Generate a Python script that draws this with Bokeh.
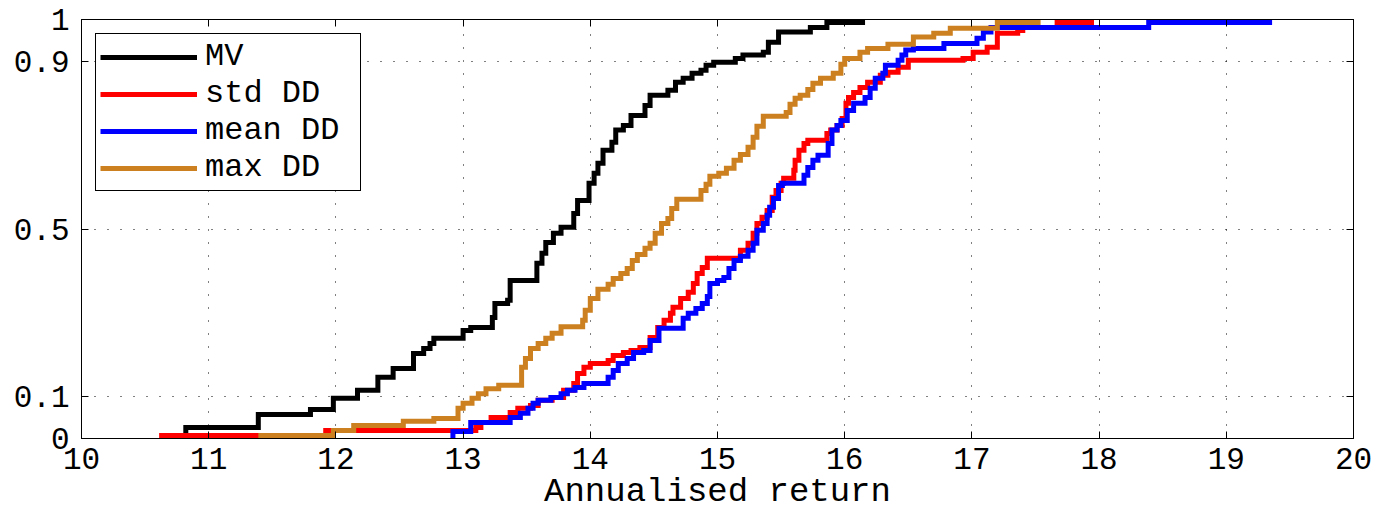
from bokeh.plotting import figure
from bokeh.models import LinearAxis, FixedTicker, Range1d, Legend, LegendItem
from bokeh.embed import file_html
from bokeh.resources import INLINE

# Empirical CDFs of annualised return: step positions (x) and cumulative levels (y)
mv_x = [10.82, 11.39, 11.80, 11.98, 12.17, 12.33, 12.45, 12.61, 12.69, 12.74,
        12.77, 13.00, 13.06, 13.23, 13.25, 13.35, 13.37, 13.58, 13.62, 13.65,
        13.71, 13.77, 13.87, 13.90, 13.99, 14.03, 14.06, 14.10, 14.17, 14.20,
        14.26, 14.32, 14.43, 14.47, 14.61, 14.67, 14.73, 14.80, 14.87, 14.91,
        14.97, 15.14, 15.20, 15.36, 15.40, 15.48, 15.73, 15.86]
mv_y = [0.026, 0.057, 0.069, 0.096, 0.115, 0.146, 0.167, 0.203, 0.215, 0.227,
        0.239, 0.258, 0.265, 0.289, 0.322, 0.330, 0.377, 0.418, 0.442, 0.468,
        0.490, 0.504, 0.537, 0.568, 0.609, 0.633, 0.657, 0.688, 0.707, 0.736,
        0.747, 0.771, 0.795, 0.819, 0.831, 0.850, 0.860, 0.872, 0.879, 0.891,
        0.898, 0.907, 0.915, 0.922, 0.946, 0.970, 0.981, 0.993]
mv_end = 16.16

std_x = [10.63, 11.92, 13.10, 13.14, 13.22, 13.37, 13.43, 13.53, 13.59, 13.70,
         13.79, 13.87, 13.90, 13.95, 14.00, 14.14, 14.18, 14.26, 14.32, 14.39,
         14.47, 14.53, 14.58, 14.63, 14.65, 14.71, 14.77, 14.81, 14.84, 14.88,
         14.92, 15.18, 15.24, 15.28, 15.31, 15.35, 15.39, 15.43, 15.46, 15.50,
         15.52, 15.60, 15.61, 15.64, 15.68, 15.71, 15.86, 15.89, 15.94, 15.98,
         16.01, 16.03, 16.07, 16.12, 16.18, 16.28, 16.34, 16.42, 16.50, 16.93,
         17.01, 17.12, 17.20, 17.36, 17.40, 17.67]
std_y = [0.007, 0.019, 0.026, 0.038, 0.050, 0.062, 0.072, 0.079, 0.091, 0.098,
         0.115, 0.131, 0.155, 0.170, 0.179, 0.186, 0.198, 0.205, 0.210, 0.217,
         0.241, 0.265, 0.282, 0.299, 0.313, 0.334, 0.349, 0.370, 0.394, 0.408,
         0.430, 0.449, 0.466, 0.490, 0.513, 0.528, 0.544, 0.576, 0.592, 0.609,
         0.621, 0.640, 0.664, 0.688, 0.704, 0.712, 0.728, 0.736, 0.747, 0.764,
         0.800, 0.814, 0.826, 0.838, 0.850, 0.867, 0.874, 0.886, 0.903, 0.907,
         0.922, 0.934, 0.967, 0.974, 0.981, 0.993]
std_end = 17.96

mean_x = [12.92, 13.06, 13.37, 13.45, 13.51, 13.55, 13.59, 13.69, 13.77, 13.82,
          13.88, 13.95, 14.14, 14.18, 14.22, 14.29, 14.34, 14.42, 14.47, 14.54,
          14.73, 14.77, 14.83, 14.88, 14.92, 14.94, 15.00, 15.05, 15.09, 15.13,
          15.18, 15.24, 15.28, 15.31, 15.36, 15.39, 15.41, 15.44, 15.48, 15.51,
          15.68, 15.71, 15.75, 15.79, 15.87, 15.90, 15.94, 15.97, 16.02, 16.07,
          16.16, 16.20, 16.24, 16.30, 16.32, 16.42, 16.45, 16.48, 16.54, 16.78,
          17.04, 17.09, 17.15, 18.39]
mean_y = [0.017, 0.038, 0.050, 0.060, 0.072, 0.084, 0.091, 0.098, 0.107, 0.115,
          0.122, 0.131, 0.146, 0.162, 0.179, 0.191, 0.205, 0.210, 0.234, 0.263,
          0.287, 0.299, 0.310, 0.322, 0.339, 0.370, 0.377, 0.384, 0.406, 0.425,
          0.435, 0.449, 0.466, 0.497, 0.513, 0.533, 0.552, 0.573, 0.604, 0.609,
          0.628, 0.647, 0.664, 0.676, 0.704, 0.736, 0.747, 0.759, 0.783, 0.800,
          0.814, 0.836, 0.860, 0.872, 0.891, 0.903, 0.915, 0.927, 0.931, 0.943,
          0.955, 0.970, 0.981, 0.993]
mean_end = 19.36

max_x = [11.41, 11.98, 12.14, 12.53, 12.77, 12.96, 13.00, 13.07, 13.12, 13.18,
         13.28, 13.46, 13.49, 13.53, 13.59, 13.65, 13.70, 13.77, 13.94, 13.96,
         14.00, 14.06, 14.14, 14.18, 14.24, 14.29, 14.33, 14.37, 14.43, 14.47,
         14.51, 14.56, 14.61, 14.64, 14.68, 14.87, 14.91, 14.94, 15.01, 15.07,
         15.13, 15.18, 15.24, 15.28, 15.31, 15.36, 15.54, 15.57, 15.61, 15.65,
         15.71, 15.75, 15.81, 15.91, 15.97, 16.00, 16.12, 16.18, 16.34, 16.54,
         16.70, 16.83, 17.20]
max_y = [0.007, 0.019, 0.031, 0.041, 0.048, 0.072, 0.084, 0.096, 0.107, 0.119,
         0.127, 0.170, 0.191, 0.215, 0.227, 0.239, 0.251, 0.267, 0.282, 0.306,
         0.334, 0.356, 0.368, 0.382, 0.394, 0.406, 0.425, 0.439, 0.454, 0.466,
         0.490, 0.513, 0.525, 0.549, 0.571, 0.592, 0.607, 0.626, 0.633, 0.645,
         0.664, 0.678, 0.695, 0.719, 0.745, 0.769, 0.778, 0.798, 0.812, 0.819,
         0.833, 0.848, 0.860, 0.872, 0.893, 0.907, 0.922, 0.931, 0.941, 0.958,
         0.967, 0.979, 0.993]
max_end = 17.54

series_names = ["MV", "std DD", "mean DD", "max DD"]
series_colors = ["#000000", "#ff0000", "#0000ff", "#cc801f"]

x_ticks = [10, 11, 12, 13, 14, 15, 16, 17, 18, 19, 20]
y_ticks = [0, 0.1, 0.5, 0.9, 1]
y_tick_labels = ["0", "0.1", "0.5", "0.9", "1"]
x_title = "Annualised return"

FONT = "Liberation Mono"


def stair(xs, ys, x_end):
    """Close an ECDF: rise from zero at the first point, hold the last level to x_end."""
    return [xs[0]] + xs + [x_end], [0.0] + ys + [ys[-1]]


p = figure(width=1376, height=513, output_backend="svg", toolbar_location=None,
           x_range=Range1d(10, 20), y_range=Range1d(0, 1),
           min_border_left=81, min_border_right=23, min_border_top=19,
           min_border_bottom=75, background_fill_color="white",
           border_fill_color="white")
p.outline_line_color = "black"
p.outline_line_width = 1
p.outline_line_alpha = 1

# Box axes: ticks pointing inwards on all four sides
p.add_layout(LinearAxis(), "above")
p.add_layout(LinearAxis(), "right")
for ax in p.xaxis:
    ax.ticker = FixedTicker(ticks=x_ticks)
for ax in p.yaxis:
    ax.ticker = FixedTicker(ticks=y_ticks)
    ax.major_label_overrides = {t: s for t, s in zip(y_ticks, y_tick_labels)}

for ax in p.axis:
    ax.axis_line_color = "black"
    ax.axis_line_width = 1
    ax.major_tick_in = 7
    ax.major_tick_out = 0
    ax.major_tick_line_color = "black"
    ax.major_tick_line_width = 1
    ax.minor_tick_line_color = None
    ax.major_label_text_font = FONT
    ax.major_label_text_color = "black"
    ax.major_label_text_font_size = "31px"

bottom = p.below[0]
bottom.major_label_standoff = 9
bottom.axis_label = x_title
bottom.axis_label_text_font = FONT
bottom.axis_label_text_font_size = "34px"
bottom.axis_label_text_font_style = "normal"
bottom.axis_label_text_color = "black"
bottom.axis_label_standoff = 1

left = p.left[0]
left.major_label_standoff = 12

# The top and right axes only carry tick marks
for ax in (p.above[0], p.right[0]):
    ax.major_label_text_color = None
    ax.major_label_text_font_size = "1px"
    ax.major_label_standoff = 0

p.xgrid.grid_line_color = "black"
p.ygrid.grid_line_color = "black"
p.xgrid.grid_line_dash = "1 12"
p.ygrid.grid_line_dash = "1 12"
p.xgrid.grid_line_width = 1
p.ygrid.grid_line_width = 1

curves = [(mv_x, mv_y, mv_end), (std_x, std_y, std_end),
          (mean_x, mean_y, mean_end), (max_x, max_y, max_end)]
items = []
for (xs, ys, x_end), name, color in zip(curves, series_names, series_colors):
    sx, sy = stair(xs, ys, x_end)
    r = p.step(sx, sy, mode="after", line_color=color, line_width=5,
               line_join="miter")
    items.append(LegendItem(label=name, renderers=[r]))

legend = Legend(items=items, location="top_left", margin=14, padding=4,
                spacing=0, glyph_width=97, glyph_height=30, label_height=30,
                label_width=151, label_standoff=8, border_line_color="black",
                border_line_width=1, border_line_alpha=1,
                background_fill_color="white", background_fill_alpha=1,
                label_text_font=FONT, label_text_font_size="32px",
                label_text_color="black")
p.add_layout(legend)

open("out.html", "w").write(file_html(p, INLINE))
